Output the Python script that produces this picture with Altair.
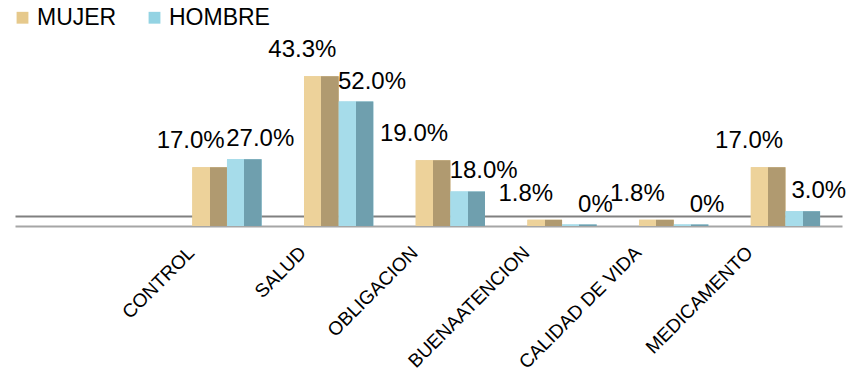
import altair as alt
import pandas as pd

categories = ["CONTROL", "SALUD", "OBLIGACION", "BUENAATENCION", "CALIDAD DE VIDA", "MEDICAMENTO"]
series = ["MUJER", "HOMBRE"]
# bar heights as drawn (common vertical scale)
mujer_bar = [17.0, 43.3, 19.0, 1.8, 1.8, 17.0]
hombre_bar = [19.3, 36.0, 10.0, 0.4, 0.4, 4.3]
# data labels as printed
mujer_label = ["17.0%", "43.3%", "19.0%", "1.8%", "1.8%", "17.0%"]
hombre_label = ["27.0%", "52.0%", "18.0%", "0%", "0%", "3.0%"]
floor_back = [2.9]

rows = []
for i, c in enumerate(categories):
    rows.append({"category": c, "series": "MUJER", "value": mujer_bar[i], "label": mujer_label[i]})
    rows.append({"category": c, "series": "HOMBRE", "value": hombre_bar[i], "label": hombre_label[i]})
df = pd.DataFrame(rows)

FONT = "Liberation Sans"
tan_light, tan_dark = "#EDD29A", "#B09A70"
blue_light, blue_dark = "#A6DCEA", "#6F9FAE"

x_enc = alt.X("category:N", sort=categories,
              scale=alt.Scale(domain=categories, paddingInner=0.38, paddingOuter=0.892, align=0.89),
              axis=alt.Axis(title=None, ticks=False, domainColor="#A6A6A6", domainWidth=2,
                            labelAngle=-45, labelAlign="right", labelBaseline="top",
                            labelPadding=17, labelOffset=-42, labelFontSize=19, labelFont=FONT,
                            labelColor="#000000"))
y_enc = alt.Y("value:Q", scale=alt.Scale(domain=[0, 48], nice=False),
              axis=alt.Axis(title=None, values=floor_back, grid=True, gridColor="#808080",
                            gridWidth=2, labels=False, ticks=False, domain=False))
xo_enc = alt.XOffset("series:N", sort=series, scale=alt.Scale(domain=series))

base = alt.Chart(df)

legend_bars = base.mark_bar().encode(
    x=x_enc, y=y_enc, xOffset=xo_enc,
    color=alt.Color("series:N", sort=series,
                    scale=alt.Scale(domain=series, range=["#E6C98C", "#93D3E3"]),
                    legend=alt.Legend(title=None, orient="none", legendX=-4, legendY=-54,
                                      direction="horizontal", symbolType="square", symbolSize=140,
                                      labelFontSize=23, labelFont=FONT, labelColor="#000000",
                                      labelOffset=3, columnPadding=26, symbolStrokeWidth=0)),
)

def grad(light, dark):
    return alt.Gradient(gradient="linear", x1=0, x2=1, y1=0, y2=0,
                        stops=[alt.GradientStop(offset=0, color=light),
                               alt.GradientStop(offset=0.5, color=light),
                               alt.GradientStop(offset=0.5, color=dark),
                               alt.GradientStop(offset=1, color=dark)])

mujer_bars = base.transform_filter(alt.datum.series == "MUJER").mark_bar(
    color=grad(tan_light, tan_dark)).encode(x=x_enc, y=y_enc, xOffset=xo_enc)
hombre_bars = base.transform_filter(alt.datum.series == "HOMBRE").mark_bar(
    color=grad(blue_light, blue_dark)).encode(x=x_enc, y=y_enc, xOffset=xo_enc)

mujer_text = base.transform_filter(alt.datum.series == "MUJER").mark_text(
    font=FONT, fontSize=24, color="#000000", baseline="middle", dy=-26, dx=-19
).encode(x=x_enc, y=y_enc, xOffset=xo_enc, text="label:N")
hombre_text = base.transform_filter(alt.datum.series == "HOMBRE").mark_text(
    font=FONT, fontSize=24, color="#000000", baseline="middle", dy=-20, dx=16
).encode(x=x_enc, y=y_enc, xOffset=xo_enc, text="label:N")

chart = alt.layer(legend_bars, mujer_bars, hombre_bars, mujer_text, hombre_text).properties(
    width=827, height=166,
    autosize=alt.AutoSizeParams(type="none"),
    padding={"left": 15, "top": 60, "right": 15, "bottom": 159},
    background="#FFFFFF",
).configure_view(stroke=None)

chart.save("out.html", embed_options={"renderer": "svg", "actions": False})
